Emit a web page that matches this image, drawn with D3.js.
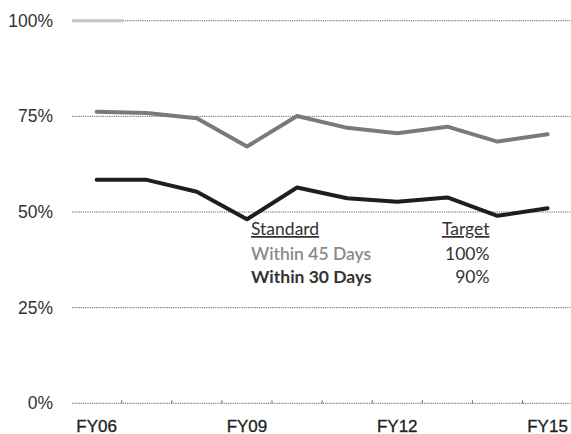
<!DOCTYPE html>
<html>
<head>
<meta charset="utf-8">
<script src="https://cdn.jsdelivr.net/npm/d3@7"></script>
<style>
  html, body { margin: 0; padding: 0; background: #fff; }
  svg { display: block; }
</style>
</head>
<body>
<svg id="chart" width="571" height="434"></svg>
<script>
// ---- data ----
const years = ["FY06","FY07","FY08","FY09","FY10","FY11","FY12","FY13","FY14","FY15"];
const within45 = [76.2, 75.9, 74.5, 67.1, 75.1, 72.0, 70.6, 72.3, 68.4, 70.3];
const within30 = [58.4, 58.4, 55.3, 48.1, 56.4, 53.6, 52.7, 53.8, 49.0, 51.0];
const yTicks = [0, 25, 50, 75, 100];
const xLabels = ["FY06", "FY09", "FY12", "FY15"];
const legendStandards = ["Within 45 Days", "Within 30 Days"];
const legendTargets = ["100%", "90%"];

const svg = d3.select("#chart");

const x = d3.scaleBand().domain(years).range([71.6, 572.6]).padding(0);
const cx = d => x(d) + x.bandwidth() / 2;
const y = d3.scaleLinear().domain([0, 100]).range([403.3, 20.7]);

// gridlines
svg.append("g").selectAll("line").data(yTicks).join("line")
  .attr("x1", 72).attr("x2", 571)
  .attr("y1", d => y(d)).attr("y2", d => y(d))
  .attr("stroke", "#666").attr("stroke-width", 1)
  .attr("stroke-dasharray", "1.2,1");

// short light segment at 100%
svg.append("line")
  .attr("x1", 72).attr("x2", 123)
  .attr("y1", y(100)).attr("y2", y(100))
  .attr("stroke", "#c4c4c4").attr("stroke-width", 3);

// tick marks at category boundaries on 0% axis
const bounds = years.map(d => x(d)).concat([x(years[years.length - 1]) + x.bandwidth()]);
svg.append("g").selectAll("line").data(bounds.slice(1, -1)).join("line")
  .attr("x1", d => d).attr("x2", d => d)
  .attr("y1", y(0)).attr("y2", y(0) - 3)
  .attr("stroke", "#666").attr("stroke-width", 1);

// y labels
svg.append("g").selectAll("text").data(yTicks).join("text")
  .attr("x", 53).attr("y", d => y(d) + 6)
  .attr("text-anchor", "end")
  .attr("font-family", "'Liberation Sans', Arial, sans-serif")
  .attr("font-size", 17.5)
  .attr("fill", "#333")
  .text(d => d + "%");

// x labels
svg.append("g").selectAll("text").data(xLabels).join("text")
  .attr("x", d => cx(d)).attr("y", 431.5)
  .attr("text-anchor", "middle")
  .attr("font-family", "'Liberation Sans', Arial, sans-serif")
  .attr("font-size", 17)
  .attr("fill", "#222")
  .attr("stroke", "#222").attr("stroke-width", 0.3)
  .text(d => d);

// lines
const line = d3.line().x((d, i) => cx(years[i])).y(d => y(d));
svg.append("path").datum(within45)
  .attr("d", line).attr("fill", "none")
  .attr("stroke", "#7a7a7a").attr("stroke-width", 4)
  .attr("stroke-linejoin", "round").attr("stroke-linecap", "round");
svg.append("path").datum(within30)
  .attr("d", line).attr("fill", "none")
  .attr("stroke", "#1e1e1e").attr("stroke-width", 4)
  .attr("stroke-linejoin", "round").attr("stroke-linecap", "round");

// legend table
const lf = "Lato, 'Open Sans', sans-serif";
const lg = svg.append("g").attr("font-family", lf).attr("font-size", 17.5);
lg.append("text").attr("x", 251).attr("y", 235).attr("fill", "#333")
  .attr("text-decoration", "underline").text("Standard");
lg.append("text").attr("x", 489.5).attr("y", 235).attr("fill", "#333")
  .attr("text-anchor", "end").attr("text-decoration", "underline").text("Target");
const rowY = [260, 283.3];
const rowFill = ["#8a8a8a", "#333"];
const rowWeight = [600, 700];
lg.append("g").selectAll("text").data(legendStandards).join("text")
  .attr("x", 251).attr("y", (d, i) => rowY[i])
  .attr("fill", (d, i) => rowFill[i]).attr("font-weight", (d, i) => rowWeight[i])
  .text(d => d);
lg.append("g").selectAll("text").data(legendTargets).join("text")
  .attr("x", 489.5).attr("y", (d, i) => rowY[i])
  .attr("text-anchor", "end").attr("fill", "#333")
  .text(d => d);
</script>
</body>
</html>
